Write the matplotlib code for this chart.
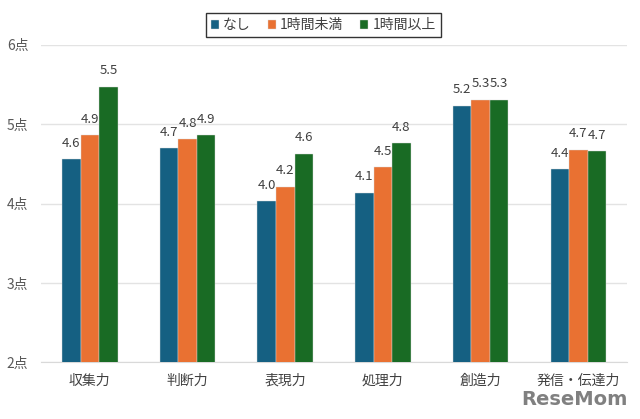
import matplotlib
matplotlib.use("Agg")
import matplotlib.pyplot as plt
import numpy as np

plt.rcParams['font.family'] = ['Noto Sans CJK JP', 'DejaVu Sans']

categories = ["収集力", "判断力", "表現力", "処理力", "創造力", "発信・伝達力"]
series_names = ["なし", "1時間未満", "1時間以上"]
none_vals = [4.56, 4.70, 4.03, 4.14, 5.23, 4.43]
under1_vals = [4.86, 4.81, 4.21, 4.46, 5.31, 4.68]
over1_vals = [5.47, 4.86, 4.63, 4.76, 5.31, 4.66]
yticks = [2, 3, 4, 5, 6]
ytick_labels = ["2点", "3点", "4点", "5点", "6点"]

colors = ["#156082", "#E97132", "#196B24"]
series = [none_vals, under1_vals, over1_vals]

fig = plt.figure(figsize=(6.4, 4.19), dpi=100)
ax = fig.add_axes([0.064, 0.135, 0.916, 0.758])

x = np.arange(len(categories))
w = 0.19
for i, (vals, c, name) in enumerate(zip(series, colors, series_names)):
    pos = x + (i - 1) * w
    ax.bar(pos, vals, width=w, color=c, label=name, zorder=3,
           edgecolor="#d9d9d9", linewidth=0.3)
    for p, v in zip(pos, vals):
        ax.text(p, v + 0.12, f"{v:.1f}", ha="center", va="bottom",
                fontsize=9.5, color="#404040")

ax.set_xlim(-0.5, len(categories) - 0.5)
ax.set_ylim(2, 6)
ax.set_yticks(yticks)
ax.set_yticklabels(ytick_labels, fontsize=10, color="#595959")
ax.set_xticks(x)
ax.set_xticklabels(categories, fontsize=10, color="#404040")
ax.tick_params(axis="both", length=0)
ax.tick_params(axis="x", pad=8)
ax.tick_params(axis="y", pad=9)
for s in ["top", "right", "left"]:
    ax.spines[s].set_visible(False)
ax.spines["bottom"].set_color("#d9d9d9")
ax.yaxis.grid(True, color="#e3e3e3", linewidth=1, zorder=0)
ax.set_axisbelow(True)

leg = fig.legend(loc="upper center", bbox_to_anchor=(0.505, 0.985), ncol=3,
                 frameon=True, fancybox=False, edgecolor="black",
                 fontsize=10, handlelength=0.6, handleheight=0.6,
                 handletextpad=0.3, columnspacing=1.2, borderpad=0.35)
leg.get_frame().set_linewidth(1.0)
for t in leg.get_texts():
    t.set_color("#404040")

fig.text(0.98, 0.025, "ReseMom", ha="right", va="bottom", fontsize=14,
         fontweight="bold", color="#808080", family="Liberation Sans Narrow")

fig.savefig("out.png", dpi=100)
